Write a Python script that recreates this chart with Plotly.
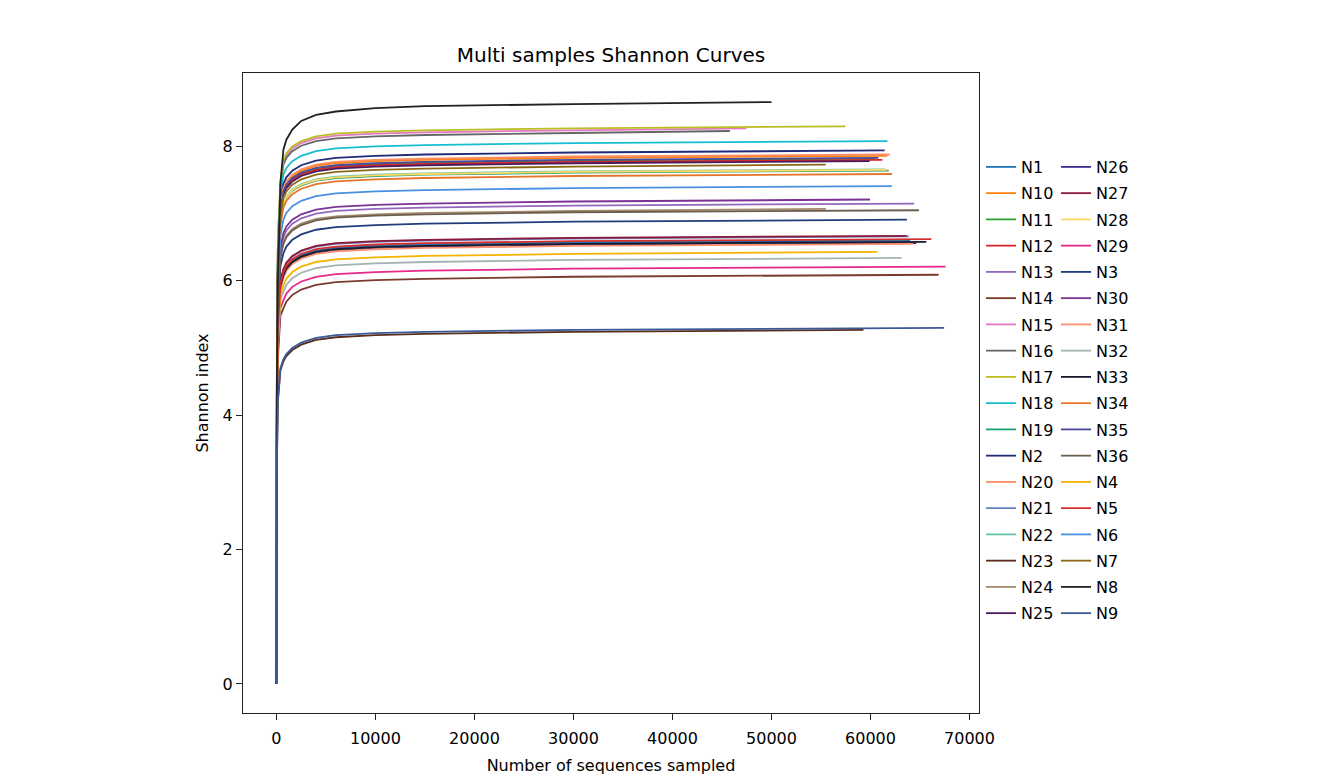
import plotly.graph_objects as go

# ---------------- data ----------------
sample_names = ["N1", "N10", "N11", "N12", "N13", "N14", "N15", "N16", "N17", "N18",
                "N19", "N2", "N20", "N21", "N22", "N23", "N24", "N25", "N26", "N27",
                "N28", "N29", "N3", "N30", "N31", "N32", "N33", "N34", "N35", "N36",
                "N4", "N5", "N6", "N7", "N8", "N9"]

sample_colors = ["#1f77b4", "#ff7f0e", "#2ca02c", "#d62728", "#9467bd", "#7b3a2e",
                 "#e377c2", "#666666", "#bcbd22", "#17becf", "#1b9e77", "#1f2a78",
                 "#fc8d62", "#6b80bf", "#66c2a5", "#5a2d1c", "#a68a6d", "#4a1a5e",
                 "#3b2a8a", "#8b1a3a", "#ffd966", "#e7298a", "#1f3d7a", "#7b3294",
                 "#fc9272", "#a3b3b3", "#1a1a2e", "#e6752a", "#4b4b9b", "#6b5e4e",
                 "#f4b400", "#d32f2f", "#4a90e2", "#8b6914", "#222222", "#3b5998"]

# sequencing depths at which each curve was read (shared) + each sample's final depth
depth_points = [0, 50, 150, 400, 700, 1000, 1600, 2500, 4000, 6000, 10000, 15000, 30000]
end_depths = [64000, 61700, 60420, 61200, 64420, 66880, 47480, 45800, 57460, 61700,
              61830, 61430, 61930, 63880, 61500, 59290, 55480, 59910, 64620, 63650,
              61700, 67580, 63680, 59950, 64300, 63140, 65630, 62170, 60800, 64890,
              60690, 66140, 62150, 55480, 50000, 67440]

# Shannon index read at depth_points + end depth, one row per sample (same order as names)
shannon_values = [
    [0, 4.22, 5.28, 5.94, 6.10, 6.20, 6.30, 6.38, 6.45, 6.49, 6.52, 6.54, 6.57, 6.60],  # N1
    [0, 5.03, 6.29, 7.07, 7.36, 7.46, 7.56, 7.64, 7.71, 7.75, 7.78, 7.80, 7.83, 7.86],  # N10
    [0, 5.00, 6.26, 7.04, 7.32, 7.42, 7.52, 7.60, 7.67, 7.71, 7.74, 7.76, 7.79, 7.82],  # N11
    [0, 4.99, 6.24, 7.02, 7.30, 7.40, 7.50, 7.58, 7.65, 7.69, 7.72, 7.74, 7.77, 7.80],  # N12
    [0, 4.58, 5.72, 6.44, 6.65, 6.75, 6.85, 6.93, 7.00, 7.04, 7.07, 7.09, 7.12, 7.15],  # N13
    [0, 3.90, 4.87, 5.48, 5.59, 5.69, 5.79, 5.87, 5.94, 5.98, 6.01, 6.03, 6.06, 6.09],  # N14
    [0, 5.29, 6.62, 7.44, 7.77, 7.87, 7.97, 8.05, 8.12, 8.16, 8.19, 8.21, 8.24, 8.27],  # N15
    [0, 5.27, 6.58, 7.41, 7.73, 7.83, 7.93, 8.01, 8.08, 8.12, 8.15, 8.17, 8.20, 8.23],  # N16
    [0, 5.31, 6.64, 7.47, 7.80, 7.90, 8.00, 8.08, 8.15, 8.19, 8.22, 8.24, 8.27, 8.30],  # N17
    [0, 5.17, 6.46, 7.27, 7.58, 7.68, 7.78, 7.86, 7.93, 7.97, 8.00, 8.02, 8.05, 8.08],  # N18
    [0, 4.89, 6.11, 6.88, 7.14, 7.24, 7.34, 7.42, 7.49, 7.53, 7.56, 7.58, 7.61, 7.64],  # N19
    [0, 5.08, 6.35, 7.15, 7.44, 7.54, 7.64, 7.72, 7.79, 7.83, 7.86, 7.88, 7.91, 7.94],  # N2
    [0, 5.04, 6.30, 7.09, 7.38, 7.48, 7.58, 7.66, 7.73, 7.77, 7.80, 7.82, 7.85, 7.88],  # N20
    [0, 4.26, 5.33, 5.99, 6.16, 6.26, 6.36, 6.44, 6.51, 6.55, 6.58, 6.60, 6.63, 6.66],  # N21
    [0, 4.90, 6.13, 6.89, 7.16, 7.26, 7.36, 7.44, 7.51, 7.55, 7.58, 7.60, 7.63, 7.66],  # N22
    [0, 3.37, 4.22, 4.67, 4.80, 4.88, 4.97, 5.05, 5.12, 5.16, 5.19, 5.21, 5.24, 5.27],  # N23
    [0, 4.52, 5.66, 6.36, 6.57, 6.67, 6.77, 6.85, 6.92, 6.96, 6.99, 7.01, 7.04, 7.07],  # N24
    [0, 4.98, 6.22, 7.00, 7.28, 7.38, 7.48, 7.56, 7.63, 7.67, 7.70, 7.72, 7.75, 7.78],  # N25
    [0, 4.20, 5.25, 5.90, 6.06, 6.16, 6.26, 6.34, 6.41, 6.45, 6.48, 6.50, 6.53, 6.56],  # N26
    [0, 4.27, 5.34, 6.00, 6.17, 6.27, 6.37, 6.45, 6.52, 6.56, 6.59, 6.61, 6.64, 6.67],  # N27
    [0, 4.90, 6.12, 6.89, 7.15, 7.25, 7.35, 7.43, 7.50, 7.54, 7.57, 7.59, 7.62, 7.65],  # N28
    [0, 3.97, 4.97, 5.59, 5.71, 5.81, 5.91, 5.99, 6.06, 6.10, 6.13, 6.15, 6.18, 6.21],  # N29
    [0, 4.42, 5.53, 6.22, 6.41, 6.51, 6.61, 6.69, 6.76, 6.80, 6.83, 6.85, 6.88, 6.91],  # N3
    [0, 4.61, 5.77, 6.49, 6.71, 6.81, 6.91, 6.99, 7.06, 7.10, 7.13, 7.15, 7.18, 7.21],  # N30
    [0, 4.19, 5.24, 5.90, 6.05, 6.15, 6.25, 6.33, 6.40, 6.44, 6.47, 6.49, 6.52, 6.55],  # N31
    [0, 4.06, 5.07, 5.71, 5.84, 5.94, 6.04, 6.12, 6.19, 6.23, 6.26, 6.28, 6.31, 6.34],  # N32
    [0, 4.21, 5.26, 5.92, 6.08, 6.18, 6.28, 6.36, 6.43, 6.47, 6.50, 6.52, 6.55, 6.58],  # N33
    [0, 4.86, 6.07, 6.83, 7.09, 7.19, 7.29, 7.37, 7.44, 7.48, 7.51, 7.53, 7.56, 7.59],  # N34
    [0, 5.01, 6.26, 7.05, 7.33, 7.43, 7.53, 7.61, 7.68, 7.72, 7.75, 7.77, 7.80, 7.83],  # N35
    [0, 4.51, 5.64, 6.35, 6.55, 6.65, 6.75, 6.83, 6.90, 6.94, 6.97, 6.99, 7.02, 7.05],  # N36
    [0, 4.12, 5.14, 5.79, 5.93, 6.03, 6.13, 6.21, 6.28, 6.32, 6.35, 6.37, 6.40, 6.43],  # N4
    [0, 4.24, 5.30, 5.96, 6.12, 6.22, 6.32, 6.40, 6.47, 6.51, 6.54, 6.56, 6.59, 6.62],  # N5
    [0, 4.74, 5.93, 6.67, 6.91, 7.01, 7.11, 7.19, 7.26, 7.30, 7.33, 7.35, 7.38, 7.41],  # N6
    [0, 4.95, 6.18, 6.96, 7.23, 7.33, 7.43, 7.51, 7.58, 7.62, 7.65, 7.67, 7.70, 7.73],  # N7
    [0, 4.60, 6.00, 7.45, 7.95, 8.10, 8.25, 8.38, 8.47, 8.52, 8.57, 8.60, 8.63, 8.66],  # N8
    [0, 3.39, 4.24, 4.70, 4.83, 4.91, 5.00, 5.08, 5.15, 5.19, 5.22, 5.24, 5.27, 5.30],  # N9
]

x_ticks = [0, 10000, 20000, 30000, 40000, 50000, 60000, 70000]
y_ticks = [0, 2, 4, 6, 8]

# ---------------- figure ----------------
FONT = "DejaVu Sans"
L, R, T, B = 243, 349, 73, 63
W, H = 1328, 776
PW = W - L - R
PH = H - T - B

fig = go.Figure()
half = len(sample_names) // 2
for i, name in enumerate(sample_names):
    xs = depth_points + [end_depths[i]]
    fig.add_trace(go.Scatter(
        x=xs, y=shannon_values[i], mode="lines", name=name,
        line=dict(color=sample_colors[i], width=1.8),
        legend="legend" if i < half else "legend2",
        legendgroup=name,
        hoverinfo="name+x+y",
    ))

xmax = max(end_depths)
ymax = max(max(r) for r in shannon_values)
legend_top = (H - B - 150) / PH
legend_common = dict(
    font=dict(family=FONT, size=16, color="black"),
    bgcolor="rgba(0,0,0,0)", borderwidth=0,
    xref="paper", yref="paper", xanchor="left", yanchor="top",
    tracegroupgap=2.45, itemwidth=30, traceorder="grouped",
)
fig.update_layout(
    width=W, height=H,
    paper_bgcolor="white", plot_bgcolor="white",
    margin=dict(l=L, r=R, t=T, b=B),
    font=dict(family=FONT, size=16, color="black"),
    title=dict(text="Multi samples Shannon Curves", x=611 / W, xanchor="center",
               y=1 - 55 / H, yanchor="middle", xref="container", yref="container",
               font=dict(family=FONT, size=20, color="black")),
    showlegend=True,
    legend=dict(x=(981 - L) / PW, y=legend_top, **legend_common),
    legend2=dict(x=(1056 - L) / PW, y=legend_top, **legend_common),
    xaxis=dict(range=[-0.05 * xmax, 1.05 * xmax], tickvals=x_ticks,
               ticktext=[str(v) for v in x_ticks], automargin=False,
               showgrid=False, zeroline=False, showline=True, mirror=True,
               linecolor="#222222", linewidth=1.4, ticks="outside", ticklen=6,
               tickcolor="#222222", tickfont=dict(family=FONT, size=16),
               ticklabelstandoff=5,
               title=dict(text="Number of sequences sampled", standoff=12,
                          font=dict(family=FONT, size=16))),
    yaxis=dict(range=[-0.05 * ymax, 1.05 * ymax], tickvals=y_ticks, automargin=False,
               showgrid=False, zeroline=False, showline=True, mirror=True,
               linecolor="#222222", linewidth=1.4, ticks="outside", ticklen=6,
               tickcolor="#222222", tickfont=dict(family=FONT, size=16),
               title=dict(text="Shannon index", standoff=9,
                          font=dict(family=FONT, size=16))),
)

fig.write_html("out.html", config={"displayModeBar": False},
               post_script="document.body.style.margin='0px';")
